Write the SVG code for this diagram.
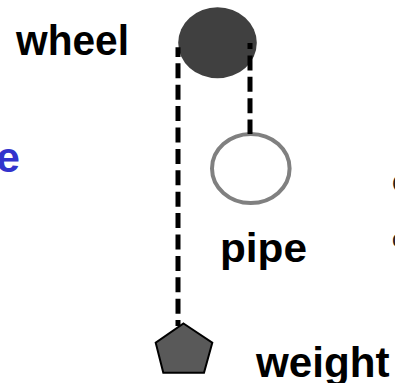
<svg xmlns="http://www.w3.org/2000/svg" width="395" height="383" viewBox="0 0 395 383">
  <style>
    .label { font-family: "Liberation Sans", Arial, sans-serif; font-weight: bold; font-size: 43px; fill: #000; }
    .side { font-family: "Liberation Sans", Arial, sans-serif; font-size: 23px; fill: #222; }
    .rope { fill: none; stroke: #000; stroke-width: 5; stroke-dasharray: 15 6.4; }
  </style>
  <rect width="395" height="383" fill="#fff"/>

  <!-- labels cut by the frame edges -->
  <text class="label" x="20" y="172" text-anchor="end" style="fill:#3333cc">e</text>
  <text class="side" x="392" y="192">C</text>
  <text class="side" x="392" y="247">c</text>

  <g id="wheel">
    <ellipse cx="217.5" cy="42.8" rx="39.3" ry="35.5" fill="#404040"/>
    <text class="label" x="16" y="55" textLength="113" lengthAdjust="spacingAndGlyphs">wheel</text>
  </g>

  <g id="pipe">
    <ellipse cx="250.8" cy="168.5" rx="38.8" ry="34.5" fill="#fff" stroke="#808080" stroke-width="4"/>
    <text class="label" x="220" y="262" style="font-size:41px" textLength="87" lengthAdjust="spacingAndGlyphs">pipe</text>
  </g>

  <g id="weight">
    <polygon points="183.5,323.5 212.3,342.7 204,372.7 163.3,372.7 155.7,342.7" fill="#595959" stroke="#000" stroke-width="2" stroke-linejoin="miter"/>
    <text class="label" x="256" y="377" textLength="133.5" lengthAdjust="spacingAndGlyphs">weight</text>
  </g>

  <g id="connectors">
    <line class="rope" x1="178" y1="47.3" x2="178" y2="326" stroke-dashoffset="5.4"/>
    <line class="rope" x1="250" y1="43" x2="250" y2="134" stroke-dashoffset="9"/>
  </g>
</svg>
